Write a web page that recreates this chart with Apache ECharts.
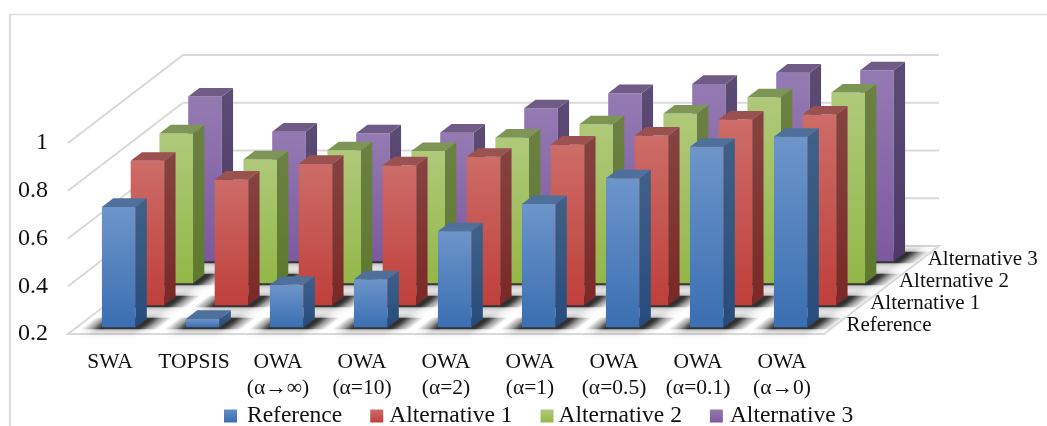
<!DOCTYPE html>
<html>
<head>
<meta charset="utf-8">
<title>3D bars</title>
<style>
  html, body { margin: 0; padding: 0; background: #fff; }
  #chart { width: 1047px; height: 426px; }
</style>
<script src="https://cdn.jsdelivr.net/npm/echarts@6/dist/echarts.min.js"></script>
</head>
<body>
<div id="chart"></div>
<script>
const categories = ['SWA', 'TOPSIS', 'OWA\n(α→∞)', 'OWA\n(α=10)', 'OWA\n(α=2)', 'OWA\n(α=1)', 'OWA\n(α=0.5)', 'OWA\n(α=0.1)', 'OWA\n(α→0)'];
const rowNames = ['Reference', 'Alternative 1', 'Alternative 2', 'Alternative 3'];
const yTicks = [0.2, 0.4, 0.6, 0.8, 1];
const reference = [0.704, 0.235, 0.378, 0.401, 0.602, 0.716, 0.824, 0.956, 0.998];
const alternative1 = [0.805, 0.726, 0.792, 0.786, 0.822, 0.873, 0.911, 0.978, 0.999];
const alternative2 = [0.828, 0.719, 0.757, 0.754, 0.81, 0.866, 0.911, 0.979, 0.999];
const alternative3 = [0.89, 0.743, 0.736, 0.739, 0.841, 0.904, 0.943, 0.99, 1];
const rowValues = [reference, alternative1, alternative2, alternative3];

// oblique projection of the depth axis, in px for the full floor depth
const depthX = 115;
const depthY = 88;
const rowGap = 0.076; // floor fraction in front of a bar
const barDepth = 0.098; // floor fraction of one bar
const barWidth = 0.4; // share of the category band
const SERIF = '"Liberation Serif", "Times New Roman", serif';
const GRID = '#d9d9d9';

const palette = [
  { front: ['#6d95ca', '#3a6fb2'], side: ['#3f6088', '#274c7c'], top: '#4f709b', mark: ['#5f8cc6', '#3a6fb2'] },
  { front: ['#cd6c68', '#bf3f3b'], side: ['#864342', '#7b2826'], top: '#9a5150', mark: ['#cd6c68', '#bf3f3b'] },
  { front: ['#afc97a', '#93b748'], side: ['#6c8043', '#5e7a2e'], top: '#7e9655', mark: ['#afc97a', '#93b748'] },
  { front: ['#947ab2', '#7c599f'], side: ['#5c4c74', '#4d3868'], top: '#6f5b85', mark: ['#947ab2', '#7c599f'] }
];

function vGrad(stops) {
  return {
    type: 'linear', x: 0, y: 0, x2: 0, y2: 1,
    colorStops: [{ offset: 0, color: stops[0] }, { offset: 1, color: stops[1] }]
  };
}

function project(api, i, value, depth) {
  const p = api.coord([i, value]);
  return [p[0] + depth * depthX, p[1] - depth * depthY];
}

function poly(points, style) {
  return { type: 'polygon', shape: { points: points }, style: style, silent: true };
}

// floor and gridlines, one data row per tick
function renderWall(params, api) {
  const tick = api.value(0);
  const half = api.size([1, 0])[0] / 2;
  const last = categories.length - 1;
  const a = project(api, 0, tick, 0);
  const b = project(api, last, tick, 0);
  a[0] -= half;
  b[0] += half;
  const c = [b[0] + depthX, b[1] - depthY];
  const d = [a[0] + depthX, a[1] - depthY];
  if (params.dataIndex === 0) {
    return poly([a, b, c, d], { fill: '#fff', stroke: GRID, lineWidth: 2 });
  }
  return {
    type: 'polyline',
    shape: { points: [a, d, c] },
    style: { fill: null, stroke: GRID, lineWidth: 2 },
    silent: true
  };
}

// soft dark patch on the floor round the foot of a bar
function makeShadow(row) {
  return function (params, api) {
    const i = api.value(0);
    const w = api.size([1, 0])[0] * barWidth;
    const z0 = row / 4 + rowGap;
    const p = project(api, i, yTicks[0], z0);
    const dx = barDepth * depthX;
    const dy = barDepth * depthY;
    const spread = 22;
    const x0 = p[0] - w / 2 - spread;
    const x1 = p[0] + w / 2 + spread;
    const base = p[1] + 2;
    const back = p[1] - dy - 1;
    const slant = (base - back) / dy * dx;
    // gradient runs across the slanted edges so that both ends fade evenly
    const len = Math.sqrt(depthX * depthX + depthY * depthY);
    const sin = depthY / len;
    const across = (x1 - x0) * sin;
    const inner = spread / (x1 - x0);
    const dark = 'rgba(35,35,35,';
    return poly(
      [[x0, base], [x1, base], [x1 + slant, back], [x0 + slant, back]],
      {
        fill: {
          type: 'linear',
          global: true,
          x: x0,
          y: base,
          x2: x0 + across * sin,
          y2: base + across * (depthX / len),
          colorStops: [
            { offset: 0, color: dark + '0)' },
            { offset: inner * 0.5, color: dark + '0.35)' },
            { offset: inner * 0.9, color: dark + '0.88)' },
            { offset: 1 - inner * 0.9, color: dark + '0.88)' },
            { offset: 1 - inner * 0.5, color: dark + '0.35)' },
            { offset: 1, color: dark + '0)' }
          ]
        },
        shadowBlur: 9,
        shadowColor: dark + '0.7)'
      }
    );
  };
}

function makeBar(row) {
  const colors = palette[row];
  return function (params, api) {
    const i = api.value(0);
    const value = api.value(1);
    const w = api.size([1, 0])[0] * barWidth;
    const z0 = row / 4 + rowGap;
    const hi = project(api, i, value, z0);
    const lo = project(api, i, yTicks[0], z0);
    const x0 = hi[0] - w / 2;
    const x1 = hi[0] + w / 2;
    const dx = barDepth * depthX;
    const dy = barDepth * depthY;
    return {
      type: 'group',
      children: [
        poly([[x0, hi[1]], [x1, hi[1]], [x1, lo[1]], [x0, lo[1]]], { fill: vGrad(colors.front) }),
        poly([[x1, hi[1]], [x1 + dx, hi[1] - dy], [x1 + dx, lo[1] - dy], [x1, lo[1]]], { fill: vGrad(colors.side) }),
        poly([[x0, hi[1]], [x1, hi[1]], [x1 + dx, hi[1] - dy], [x0 + dx, hi[1] - dy]], { fill: colors.top })
      ]
    };
  };
}

// names along the right edge of the floor
function renderRowLabel(params, api) {
  const row = api.value(0);
  const half = api.size([1, 0])[0] / 2;
  const p = project(api, categories.length - 1, yTicks[0], (row + 0.5) / 4);
  return {
    type: 'text',
    silent: true,
    style: {
      text: rowNames[row],
      x: p[0] + half + (row === 0 ? 8 : 3),
      y: p[1] + 2,
      font: '21px ' + SERIF,
      fill: '#111',
      textAlign: 'left',
      textVerticalAlign: 'middle'
    }
  };
}

const series = [
  {
    type: 'custom', name: 'wall', silent: true,
    data: yTicks.map(t => [t]),
    encode: { y: 0 },
    renderItem: renderWall
  }
];
// back row first so that the front rows overlap it
for (let row = rowNames.length - 1; row >= 0; row--) {
  series.push({
    type: 'custom', name: 'shadow ' + row, silent: true,
    data: rowValues[row].map((v, i) => [i, v]),
    encode: { x: 0, y: 1 },
    renderItem: makeShadow(row)
  });
}
for (let row = rowNames.length - 1; row >= 0; row--) {
  series.push({
    type: 'custom', name: rowNames[row], silent: true,
    itemStyle: { color: palette[row].front[1] },
    data: rowValues[row].map((v, i) => [i, v]),
    encode: { x: 0, y: 1 },
    renderItem: makeBar(row)
  });
}
series.push({
  type: 'custom', name: 'row labels', silent: true,
  data: rowNames.map((n, k) => [k]),
  encode: { x: 0 },
  renderItem: renderRowLabel
});

const legendPad = [5, 1, 0, 2]; // space between a marker and its name

const chart = echarts.init(document.getElementById('chart'), null, { renderer: 'canvas' });
chart.setOption({
  animation: false,
  backgroundColor: '#fff',
  grid: { left: 68, right: 223, top: 143, bottom: 92 },
  legend: {
    left: 224,
    top: 404,
    icon: 'rect',
    itemWidth: 13,
    itemHeight: 13,
    itemGap: 28,
    padding: 0,
    selectedMode: false,
    data: rowNames.map((n, k) => ({
      name: n,
      itemStyle: { color: vGrad(palette[k].mark) },
      textStyle: { fontFamily: SERIF, fontSize: 23.5, color: '#111', padding: [0, 0, 0, legendPad[k]] }
    }))
  },
  xAxis: {
    type: 'category',
    data: categories,
    axisLine: { show: false },
    axisTick: { show: false },
    axisLabel: { interval: 0, margin: 15, fontFamily: SERIF, fontSize: 21.5, lineHeight: 26, color: '#111' }
  },
  yAxis: {
    type: 'value',
    min: 0.2,
    max: 1,
    interval: 0.2,
    axisLine: { show: false },
    axisTick: { show: false },
    splitLine: { show: false },
    axisLabel: { margin: 20, fontFamily: SERIF, fontSize: 24, color: '#111' }
  },
  graphic: [
    { type: 'line', silent: true, shape: { x1: 9, y1: 14.5, x2: 1047, y2: 14.5 }, style: { stroke: '#dcdcdc', lineWidth: 1.5 } },
    { type: 'line', silent: true, shape: { x1: 10, y1: 14, x2: 10, y2: 426 }, style: { stroke: '#dcdcdc', lineWidth: 2 } }
  ],
  series: series
});
</script>
</body>
</html>
